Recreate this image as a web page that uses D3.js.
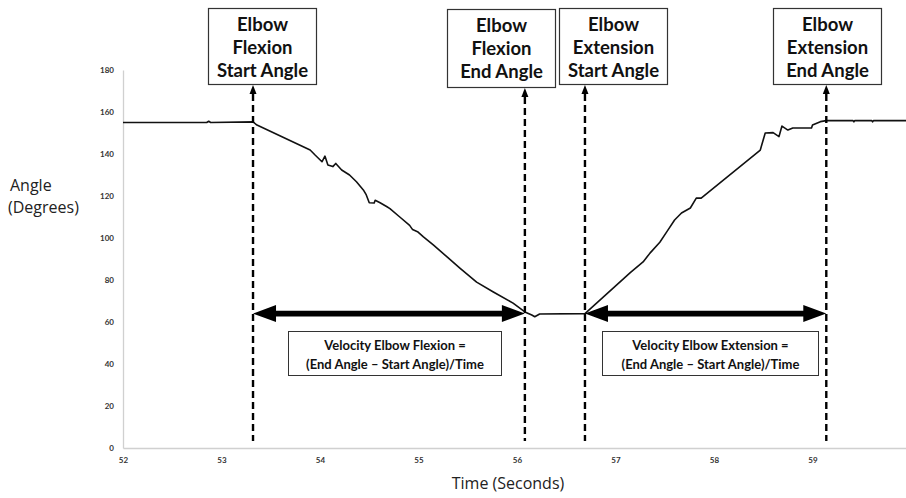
<!DOCTYPE html>
<html>
<head>
<meta charset="utf-8">
<script src="https://cdn.jsdelivr.net/npm/d3@7"></script>
<style>
  html, body { margin: 0; padding: 0; background: #fff; }
  svg { display: block; }
</style>
</head>
<body>
<svg id="chart" width="906" height="498"></svg>
<script>
// Elbow angle over time (seconds, degrees)
const times = [
  52.00, 52.85, 52.87, 52.89, 53.32, 53.36, 53.90, 53.95, 54.02, 54.05,
  54.08, 54.13, 54.16, 54.22, 54.30, 54.37, 54.44, 54.47, 54.50, 54.55,
  54.56, 54.61, 54.68, 54.71, 54.81, 54.91, 54.94, 54.99, 55.05, 55.15,
  55.29, 55.42, 55.59, 55.76, 55.96, 56.08, 56.15, 56.18, 56.23, 56.69,
  57.15, 57.28, 57.35, 57.45, 57.52, 57.60, 57.67, 57.76, 57.82, 57.87,
  58.47, 58.52, 58.60, 58.66, 58.69, 58.75, 58.80, 58.99, 59.00, 59.08,
  59.14, 59.41, 59.42, 59.43, 59.60, 59.61, 59.62, 60.00
];
const angles = [
  155.0, 155.0, 155.6, 155.0, 155.3, 153.8, 141.9, 139.5, 136.3, 139.0,
  134.8, 134.0, 135.5, 132.4, 130.0, 126.8, 122.9, 120.5, 116.8, 116.7,
  118.0, 116.8, 114.9, 114.0, 110.0, 106.0, 104.0, 103.0, 100.5, 96.7,
  91.0, 85.7, 79.0, 74.3, 69.0, 64.8, 63.3, 62.5, 63.8, 64.0,
  83.5, 88.6, 92.8, 98.0, 102.9, 108.6, 111.9, 114.3, 119.0, 119.0,
  141.9, 150.0, 150.2, 148.3, 153.3, 151.4, 152.4, 152.4, 153.8, 155.4,
  155.9, 155.9, 155.3, 155.9, 155.9, 155.3, 155.9, 155.9
];

// Event markers: time of each angle event and its label lines
const markerTimes = [53.32, 56.08, 56.69, 59.14];
const markerLabels = [
  ["Elbow", "Flexion", "Start Angle"],
  ["Elbow", "Flexion", "End Angle"],
  ["Elbow", "Extension", "Start Angle"],
  ["Elbow", "Extension", "End Angle"]
];

// Velocity spans (start / end marker index) and their formula text
const spanIndex = [[0, 1], [2, 3]];
const spanAngle = 64;
const spanLabels = [
  ["Velocity Elbow Flexion =", "(End Angle \u2013 Start Angle)/Time"],
  ["Velocity Elbow Extension =", "(End Angle \u2013 Start Angle)/Time"]
];

const xTicks = [52, 53, 54, 55, 56, 57, 58, 59, 60];
const yTicks = [0, 20, 40, 60, 80, 100, 120, 140, 160, 180];

const svg = d3.select("#chart");
const x = d3.scaleLinear().domain([52, 60]).range([123, 911]);
const y = d3.scaleLinear().domain([0, 180]).range([448, 70]);

// Axes
const yAxis = svg.append("g")
  .attr("transform", `translate(${x(52)},0)`)
  .call(d3.axisLeft(y).tickValues(yTicks).tickSize(0).tickPadding(9));
const xAxis = svg.append("g")
  .attr("transform", `translate(0,${y(0)})`)
  .call(d3.axisBottom(x).tickValues(xTicks).tickSize(0).tickPadding(9));
[yAxis, xAxis].forEach(g => {
  g.select(".domain").attr("stroke", "#d0d0d0").attr("stroke-width", 1.3);
  g.selectAll("text")
    .attr("font-family", "Lato, 'Open Sans', sans-serif")
    .attr("font-weight", "bold")
    .attr("font-size", 8)
    .attr("fill", "#333");
});

// Axis titles
const titleFont = "'Open Sans', sans-serif";
svg.append("text")
  .attr("x", 10).attr("y", 191)
  .attr("font-family", titleFont).attr("font-size", 16).attr("fill", "#222")
  .text("Angle");
svg.append("text")
  .attr("x", 8).attr("y", 213)
  .attr("font-family", titleFont).attr("font-size", 16).attr("fill", "#222")
  .text("(Degrees)");
svg.append("text")
  .attr("x", 508).attr("y", 489).attr("text-anchor", "middle")
  .attr("font-family", titleFont).attr("font-size", 16).attr("fill", "#222")
  .text("Time (Seconds)");

// Angle trace
const line = d3.line().x(d => x(d[0])).y(d => y(d[1]));
svg.append("path")
  .datum(d3.zip(times, angles))
  .attr("fill", "none")
  .attr("stroke", "#111")
  .attr("stroke-width", 1.6)
  .attr("stroke-linejoin", "round")
  .attr("d", line);

// Label boxes above the plot, one per marker
const boxLeft = [208, 447, 559, 773];
const boxTop = [8, 9, 8, 8];
const boxBottom = [84, 87, 84, 84];
const boxW = 108;
const fontBox = "Lato, 'Open Sans', sans-serif";

markerTimes.forEach((t, i) => {
  const g = svg.append("g");
  g.append("rect")
    .attr("x", boxLeft[i] + 0.5).attr("y", boxTop[i] + 0.5)
    .attr("width", boxW).attr("height", boxBottom[i] - boxTop[i])
    .attr("fill", "#fff").attr("stroke", "#333").attr("stroke-width", 1.2);
  const cx = boxLeft[i] + boxW / 2 + 0.5;
  markerLabels[i].forEach((s, k) => {
    g.append("text")
      .attr("x", cx).attr("y", boxTop[i] + 23 + k * 23)
      .attr("text-anchor", "middle")
      .attr("font-family", fontBox).attr("font-weight", "bold")
      .attr("font-size", 18.5).attr("fill", "#111")
      .text(s);
  });
  // dashed marker with a small arrowhead pointing at the box
  const mx = x(t);
  const tip = boxBottom[i] + 1;
  g.append("path")
    .attr("d", `M${mx},${tip} L${mx - 3.5},${tip + 9} L${mx + 3.5},${tip + 9} Z`)
    .attr("fill", "#000");
  g.append("line")
    .attr("x1", mx).attr("x2", mx)
    .attr("y1", tip + 9).attr("y2", 441)
    .attr("stroke", "#000").attr("stroke-width", 2.4)
    .attr("stroke-dasharray", "7,4");
});

// Double-headed velocity arrows and formula boxes
const formulaBox = [[288, 331, 213, 44], [602, 331, 216, 44]];
spanIndex.forEach((pair, i) => {
  const x0 = x(markerTimes[pair[0]]);
  const x1 = x(markerTimes[pair[1]]);
  const yy = y(spanAngle);
  const hl = 23, hh = 8.5, sw = 2.8;
  svg.append("path")
    .attr("d", [
      `M${x0},${yy}`,
      `L${x0 + hl},${yy - hh}`, `L${x0 + hl},${yy - sw}`,
      `L${x1 - hl},${yy - sw}`, `L${x1 - hl},${yy - hh}`,
      `L${x1},${yy}`,
      `L${x1 - hl},${yy + hh}`, `L${x1 - hl},${yy + sw}`,
      `L${x0 + hl},${yy + sw}`, `L${x0 + hl},${yy + hh}`, "Z"
    ].join(""))
    .attr("fill", "#000");

  const [bx, by, bw, bh] = formulaBox[i];
  svg.append("rect")
    .attr("x", bx + 0.5).attr("y", by + 0.5).attr("width", bw).attr("height", bh)
    .attr("fill", "#fff").attr("stroke", "#333").attr("stroke-width", 1);
  spanLabels[i].forEach((s, k) => {
    svg.append("text")
      .attr("x", bx + bw / 2 + 0.5).attr("y", by + 19 + k * 19)
      .attr("text-anchor", "middle")
      .attr("font-family", fontBox).attr("font-weight", "bold")
      .attr("font-size", 13).attr("fill", "#111")
      .text(s);
  });
});
</script>
</body>
</html>
